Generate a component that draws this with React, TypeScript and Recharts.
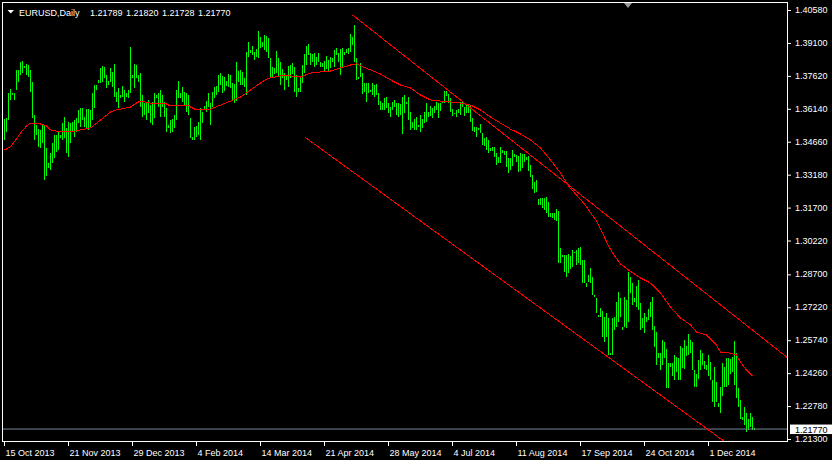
import { ComposedChart, Bar, Line, XAxis, YAxis, ReferenceLine } from "recharts";

const DATE_LABELS = [
  "15 Oct 2013", "21 Nov 2013", "29 Dec 2013", "4 Feb 2014", "14 Mar 2014", "21 Apr 2014",
  "28 May 2014", "4 Jul 2014", "11 Aug 2014", "17 Sep 2014", "24 Oct 2014", "1 Dec 2014",
];
const DATE_TICKS = [0, 32, 64, 96, 128, 160, 192, 224, 256, 288, 320, 352];

const PRICE_TICKS = [
  1.4058, 1.391, 1.3762, 1.3614, 1.3466, 1.3318, 1.317,
  1.3022, 1.287, 1.2722, 1.2574, 1.2426, 1.2278, 1.213,
];

const LAST_OHLC = [1.21789, 1.2182, 1.21728, 1.2177];

const HIGH = [
  1.3570, 1.3575, 1.3687, 1.3705, 1.3687, 1.3687, 1.3791, 1.3791, 1.3827, 1.3831,
  1.3809, 1.3818, 1.3813, 1.3791, 1.3737, 1.3588, 1.3543, 1.3525, 1.3521, 1.3548,
  1.3543, 1.3440, 1.3373, 1.3418, 1.3463, 1.3499, 1.3499, 1.3512, 1.3499, 1.3552,
  1.3579, 1.3530, 1.3557, 1.3552, 1.3557, 1.3566, 1.3575, 1.3611, 1.3620, 1.3620,
  1.3579, 1.3615, 1.3615, 1.3611, 1.3687, 1.3723, 1.3723, 1.3746, 1.3800, 1.3809,
  1.3804, 1.3768, 1.3741, 1.3800, 1.3782, 1.3818, 1.3692, 1.3710, 1.3678, 1.3719,
  1.3701, 1.3687, 1.3701, 1.3894, 1.3768, 1.3818, 1.3813, 1.3768, 1.3777, 1.3678,
  1.3642, 1.3647, 1.3656, 1.3633, 1.3647, 1.3687, 1.3678, 1.3687, 1.3701, 1.3678,
  1.3647, 1.3620, 1.3543, 1.3566, 1.3570, 1.3588, 1.3701, 1.3741, 1.3687, 1.3714,
  1.3692, 1.3687, 1.3678, 1.3575, 1.3490, 1.3534, 1.3539, 1.3557, 1.3620, 1.3602,
  1.3629, 1.3651, 1.3687, 1.3642, 1.3692, 1.3714, 1.3719, 1.3768, 1.3777, 1.3764,
  1.3759, 1.3741, 1.3773, 1.3768, 1.3732, 1.3728, 1.3827, 1.3786, 1.3791, 1.3782,
  1.3755, 1.3872, 1.3916, 1.3881, 1.3898, 1.3872, 1.3885, 1.3966, 1.3939, 1.3916,
  1.3948, 1.3943, 1.3934, 1.3845, 1.3804, 1.3800, 1.3876, 1.3845, 1.3827, 1.3795,
  1.3777, 1.3768, 1.3809, 1.3813, 1.3822, 1.3804, 1.3768, 1.3710, 1.3755, 1.3813,
  1.3863, 1.3898, 1.3907, 1.3867, 1.3863, 1.3867, 1.3849, 1.3867, 1.3827, 1.3822,
  1.3831, 1.3854, 1.3836, 1.3849, 1.3845, 1.3881, 1.3889, 1.3867, 1.3885, 1.3889,
  1.3872, 1.3885, 1.3889, 1.3952, 1.3939, 1.3993, 1.3845, 1.3759, 1.3822, 1.3777,
  1.3732, 1.3732, 1.3732, 1.3701, 1.3732, 1.3723, 1.3728, 1.3687, 1.3651, 1.3642,
  1.3665, 1.3669, 1.3642, 1.3624, 1.3647, 1.3656, 1.3642, 1.3642, 1.3638, 1.3669,
  1.3678, 1.3647, 1.3669, 1.3602, 1.3557, 1.3570, 1.3579, 1.3543, 1.3588, 1.3570,
  1.3602, 1.3642, 1.3602, 1.3629, 1.3620, 1.3629, 1.3647, 1.3642, 1.3642, 1.3647,
  1.3696, 1.3696, 1.3683, 1.3665, 1.3615, 1.3597, 1.3611, 1.3615, 1.3647, 1.3651,
  1.3624, 1.3638, 1.3638, 1.3629, 1.3575, 1.3534, 1.3534, 1.3530, 1.3548, 1.3507,
  1.3485, 1.3490, 1.3476, 1.3440, 1.3445, 1.3445, 1.3418, 1.3400, 1.3445, 1.3431,
  1.3427, 1.3427, 1.3395, 1.3395, 1.3431, 1.3413, 1.3409, 1.3404, 1.3418, 1.3413,
  1.3413, 1.3400, 1.3404, 1.3364, 1.3319, 1.3287, 1.3296, 1.3211, 1.3215, 1.3215,
  1.3215, 1.3220, 1.3197, 1.3148, 1.3148, 1.3148, 1.3166, 1.3157, 1.2991, 1.2959,
  1.2959, 1.2959, 1.2964, 1.2955, 1.2982, 1.2973, 1.2982, 1.2991, 1.2995, 1.2937,
  1.2937, 1.2833, 1.2869, 1.2901, 1.2860, 1.2779, 1.2766, 1.2689, 1.2721, 1.2707,
  1.2680, 1.2698, 1.2676, 1.2519, 1.2676, 1.2680, 1.2748, 1.2793, 1.2766, 1.2636,
  1.2770, 1.2757, 1.2883, 1.2860, 1.2833, 1.2766, 1.2820, 1.2847, 1.2743, 1.2676,
  1.2698, 1.2680, 1.2716, 1.2748, 1.2770, 1.2640, 1.2613, 1.2519, 1.2519, 1.2577,
  1.2568, 1.2537, 1.2474, 1.2474, 1.2474, 1.2510, 1.2501, 1.2496, 1.2550, 1.2541,
  1.2577, 1.2550, 1.2604, 1.2577, 1.2568, 1.2442, 1.2424, 1.2487, 1.2532, 1.2519,
  1.2483, 1.2465, 1.2510, 1.2478, 1.2397, 1.2456, 1.2388, 1.2294, 1.2366, 1.2474,
  1.2456, 1.2496, 1.2496, 1.2492, 1.2501, 1.2573, 1.2519, 1.2361, 1.2308, 1.2231,
  1.2276, 1.2249, 1.2222, 1.2249, 1.2231, 1.2182,
];

const LOW = [
  1.3476, 1.3512, 1.3566, 1.3656, 1.3678, 1.3656, 1.3701, 1.3737, 1.3768, 1.3777,
  1.3800, 1.3768, 1.3759, 1.3692, 1.3575, 1.3476, 1.3499, 1.3445, 1.3440, 1.3463,
  1.3296, 1.3314, 1.3350, 1.3341, 1.3373, 1.3395, 1.3422, 1.3431, 1.3485, 1.3476,
  1.3485, 1.3418, 1.3400, 1.3463, 1.3512, 1.3490, 1.3512, 1.3552, 1.3534, 1.3566,
  1.3534, 1.3530, 1.3521, 1.3534, 1.3566, 1.3620, 1.3701, 1.3732, 1.3732, 1.3737,
  1.3755, 1.3710, 1.3723, 1.3737, 1.3714, 1.3669, 1.3647, 1.3620, 1.3665, 1.3669,
  1.3647, 1.3669, 1.3665, 1.3687, 1.3755, 1.3710, 1.3755, 1.3737, 1.3624, 1.3579,
  1.3588, 1.3566, 1.3597, 1.3552, 1.3543, 1.3575, 1.3665, 1.3624, 1.3579, 1.3624,
  1.3579, 1.3512, 1.3530, 1.3507, 1.3512, 1.3530, 1.3566, 1.3665, 1.3665, 1.3647,
  1.3633, 1.3602, 1.3588, 1.3485, 1.3476, 1.3476, 1.3490, 1.3499, 1.3476, 1.3552,
  1.3611, 1.3602, 1.3624, 1.3543, 1.3624, 1.3665, 1.3678, 1.3692, 1.3723, 1.3687,
  1.3696, 1.3719, 1.3714, 1.3710, 1.3656, 1.3642, 1.3651, 1.3737, 1.3723, 1.3723,
  1.3714, 1.3678, 1.3849, 1.3867, 1.3858, 1.3836, 1.3849, 1.3845, 1.3889, 1.3894,
  1.3881, 1.3872, 1.3845, 1.3755, 1.3759, 1.3773, 1.3777, 1.3759, 1.3723, 1.3755,
  1.3701, 1.3746, 1.3714, 1.3755, 1.3773, 1.3692, 1.3669, 1.3692, 1.3692, 1.3732,
  1.3777, 1.3813, 1.3858, 1.3813, 1.3827, 1.3804, 1.3813, 1.3827, 1.3804, 1.3804,
  1.3782, 1.3795, 1.3786, 1.3800, 1.3827, 1.3804, 1.3858, 1.3827, 1.3768, 1.3804,
  1.3858, 1.3867, 1.3863, 1.3872, 1.3903, 1.3827, 1.3746, 1.3750, 1.3759, 1.3683,
  1.3692, 1.3647, 1.3687, 1.3692, 1.3678, 1.3669, 1.3678, 1.3633, 1.3611, 1.3611,
  1.3611, 1.3620, 1.3597, 1.3579, 1.3611, 1.3624, 1.3588, 1.3579, 1.3588, 1.3503,
  1.3597, 1.3638, 1.3566, 1.3521, 1.3530, 1.3521, 1.3521, 1.3534, 1.3512, 1.3530,
  1.3552, 1.3557, 1.3579, 1.3584, 1.3575, 1.3597, 1.3611, 1.3575, 1.3606, 1.3642,
  1.3642, 1.3674, 1.3642, 1.3602, 1.3584, 1.3593, 1.3579, 1.3597, 1.3588, 1.3624,
  1.3584, 1.3597, 1.3597, 1.3557, 1.3516, 1.3512, 1.3490, 1.3521, 1.3507, 1.3454,
  1.3449, 1.3431, 1.3418, 1.3427, 1.3427, 1.3400, 1.3364, 1.3373, 1.3373, 1.3418,
  1.3409, 1.3355, 1.3328, 1.3341, 1.3359, 1.3400, 1.3377, 1.3332, 1.3337, 1.3350,
  1.3377, 1.3386, 1.3337, 1.3310, 1.3256, 1.3238, 1.3242, 1.3184, 1.3184, 1.3170,
  1.3161, 1.3148, 1.3130, 1.3130, 1.3125, 1.3116, 1.3112, 1.2923, 1.2923, 1.2950,
  1.2883, 1.2860, 1.2878, 1.2896, 1.2905, 1.2968, 1.2914, 1.2923, 1.2914, 1.2833,
  1.2833, 1.2815, 1.2838, 1.2833, 1.2779, 1.2770, 1.2698, 1.2680, 1.2680, 1.2591,
  1.2568, 1.2591, 1.2510, 1.2510, 1.2510, 1.2622, 1.2636, 1.2658, 1.2680, 1.2622,
  1.2636, 1.2631, 1.2658, 1.2788, 1.2734, 1.2748, 1.2725, 1.2712, 1.2622, 1.2631,
  1.2609, 1.2658, 1.2667, 1.2680, 1.2622, 1.2546, 1.2465, 1.2496, 1.2442, 1.2465,
  1.2496, 1.2361, 1.2361, 1.2456, 1.2415, 1.2397, 1.2433, 1.2397, 1.2397, 1.2451,
  1.2447, 1.2505, 1.2510, 1.2519, 1.2442, 1.2366, 1.2366, 1.2402, 1.2442, 1.2465,
  1.2447, 1.2442, 1.2415, 1.2397, 1.2299, 1.2276, 1.2299, 1.2276, 1.2249, 1.2325,
  1.2366, 1.2366, 1.2375, 1.2424, 1.2433, 1.2375, 1.2316, 1.2276, 1.2222, 1.2218,
  1.2195, 1.2164, 1.2173, 1.2186, 1.2173, 1.21728,
];

// moving average at these bar indexes
const MA_IDX = [
  0, 3, 6, 8, 11, 13, 16, 18, 21, 23, 26, 28, 33, 38, 43, 48, 53, 56, 58, 63,
  66, 68, 73, 78, 81, 83, 86, 88, 92, 93, 96, 98, 103, 108, 113, 118, 123, 128, 131, 133,
  138, 143, 148, 153, 158, 163, 168, 173, 176, 178, 183, 188, 193, 198, 203, 208, 213, 218, 223, 228,
  233, 238, 243, 248, 253, 258, 263, 268, 273, 278, 282, 290, 296, 299, 302, 305, 308, 312, 318, 323,
  328, 333, 338, 343, 346, 351, 356, 358, 362, 366, 368, 371, 374,
];
const MA_VAL = [
  1.3431, 1.3445, 1.3481, 1.3507, 1.3539, 1.3552, 1.3552, 1.3548, 1.3539, 1.3521,
  1.3516, 1.3512, 1.3512, 1.3521, 1.3530, 1.3566, 1.3602, 1.3611, 1.3615, 1.3624,
  1.3642, 1.3651, 1.3642, 1.3642, 1.3638, 1.3629, 1.3629, 1.3633, 1.3633, 1.3624,
  1.3611, 1.3611, 1.3615, 1.3633, 1.3651, 1.3669, 1.3701, 1.3732, 1.3750, 1.3755,
  1.3764, 1.3764, 1.3759, 1.3777, 1.3782, 1.3786, 1.3800, 1.3813, 1.3818, 1.3809,
  1.3791, 1.3773, 1.3746, 1.3723, 1.3710, 1.3678, 1.3656, 1.3651, 1.3647, 1.3642,
  1.3633, 1.3611, 1.3579, 1.3552, 1.3525, 1.3503, 1.3476, 1.3440, 1.3386, 1.3328,
  1.3269, 1.3188, 1.3112, 1.3058, 1.3000, 1.2955, 1.2919, 1.2892, 1.2856, 1.2833,
  1.2788, 1.2725, 1.2676, 1.2645, 1.2613, 1.2600, 1.2555, 1.2523, 1.2519, 1.2510,
  1.2478, 1.2442, 1.2415,
];

// hand-drawn channel lines: [bar index, price] at each end
const UPPER_LINE = [[174, 1.4038], [391.75, 1.2496]];
const LOWER_LINE = [[150, 1.349], [360, 1.2121]];

const FONT = "'Liberation Sans', Arial, sans-serif";

const maByIdx = new Map(MA_IDX.map((i, k) => [i, MA_VAL[k]]));
const rows = HIGH.map((h, i) => ({ i, range: [LOW[i], h], ma: maByIdx.get(i) ?? null }));

function DateTick({ x, y, payload }: any) {
  const k = DATE_TICKS.indexOf(payload.value);
  return (
    <text x={x + 1} y={y + 8} fill="#fff" fontSize={9} fontFamily={FONT}>
      {DATE_LABELS[k]}
    </text>
  );
}

function PriceTick({ x, y, payload }: any) {
  return (
    <text x={x} y={y + 2.5} fill="#fff" fontSize={9} fontFamily={FONT}>
      {Number(payload.value).toFixed(5)}
    </text>
  );
}

function PriceTag({ viewBox }: any) {
  const x = viewBox.x + viewBox.width + 2;
  return (
    <g>
      <rect x={x} y={viewBox.y - 4.5} width={44} height={9.5} fill="#fff" />
      <text x={x + 5} y={viewBox.y + 3.5} fill="#000" fontSize={9} fontFamily={FONT}>
        {LAST_OHLC[3].toFixed(5)}
      </text>
    </g>
  );
}

export default function App() {
  const seg = (l: number[][]) => l.map(([x, y]) => ({ x, y }));
  return (
    <div style={{ position: "fixed", left: 0, top: 0, width: 832, height: 460, background: "#000" }}>
      <ComposedChart
        width={832}
        height={460}
        data={rows}
        margin={{ top: 3, right: 0, bottom: 0, left: 2 }}
      >
        <XAxis
          dataKey="i"
          type="number"
          domain={[-1.25, 391.75]}
          allowDataOverflow
          ticks={DATE_TICKS}
          interval={0}
          height={18}
          tickSize={4}
          axisLine={false}
          tickLine={{ stroke: "#fff" }}
          tick={(p: any) => <DateTick {...p} />}
        />
        <YAxis
          orientation="right"
          width={44}
          domain={[1.21188, 1.40917]}
          allowDataOverflow
          ticks={PRICE_TICKS}
          interval={0}
          tickSize={3}
          tickMargin={4}
          axisLine={false}
          tickLine={{ stroke: "#fff" }}
          tick={(p: any) => <PriceTick {...p} />}
        />
        <ReferenceLine y={LAST_OHLC[3]} stroke="#778899" label={<PriceTag />} />
        <Bar
          dataKey="range"
          fill="#00ff00"
          barSize={1}
          shapeRendering="crispEdges"
          isAnimationActive={false}
        />
        <Line
          dataKey="ma"
          stroke="#ff0000"
          strokeWidth={1}
          dot={false}
          connectNulls
          type="linear"
          shapeRendering="crispEdges"
          isAnimationActive={false}
        />
        <ReferenceLine segment={seg(UPPER_LINE)} stroke="#ff0000" shapeRendering="crispEdges" />
        <ReferenceLine segment={seg(LOWER_LINE)} stroke="#ff0000" shapeRendering="crispEdges" />
      </ComposedChart>
      <svg
        width={832}
        height={460}
        style={{ position: "absolute", left: 0, top: 0, pointerEvents: "none" }}
      >
        <rect x={2.5} y={2.5} width={785} height={439} fill="none" stroke="#fff" />
        <polygon points="7.5,10 14,10 10.75,13.5" fill="#fff" />
        <polygon points="624,3 632,3 628,8" fill="#9a9a9a" />
        <g fill="#fff" fontSize={9} fontFamily={FONT}>
          <text x={19} y={15.5}>EURUSD,Daily</text>
          {LAST_OHLC.map((v, k) => (
            <text key={k} x={90 + k * 36} y={15.5}>
              {v.toFixed(5)}
            </text>
          ))}
        </g>
      </svg>
    </div>
  );
}
